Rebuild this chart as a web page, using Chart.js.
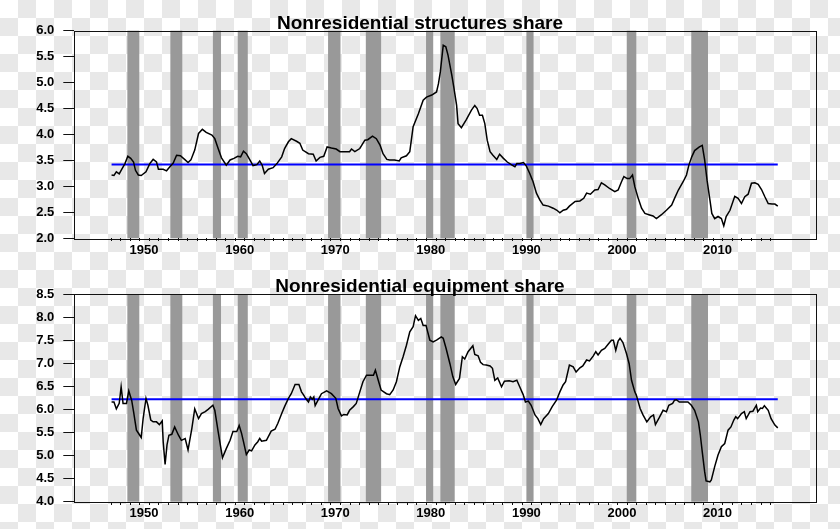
<!DOCTYPE html>
<html>
<head>
<meta charset="utf-8">
<script src="https://cdn.jsdelivr.net/npm/chart.js@4/dist/chart.umd.min.js"></script>
<style>
  html, body {
    margin: 0;
    width: 840px;
    height: 529px;
    overflow: hidden;
    background-color: #fff;
    background-image: repeating-conic-gradient(#e8e8e8 0 25%, #ffffff 0 50%);
    background-size: 36px 36px;
  }
  canvas { position: absolute; left: 0; }
  #c1 { top: 0; }
  #c2 { top: 264px; }
</style>
</head>
<body>
<canvas id="c1" width="840" height="264"></canvas>
<canvas id="c2" width="840" height="265"></canvas>
<script>
const decadeLabels = [1950, 1960, 1970, 1980, 1990, 2000, 2010];
const recessionStart = [1948.75, 1953.25, 1957.7, 1960.3, 1969.75, 1973.7, 1980.0, 1981.5, 1990.5, 2001.0, 2007.75];
const recessionEnd   = [1950.0, 1954.5, 1958.55, 1961.35, 1971.05, 1975.3, 1980.75, 1983.0, 1991.25, 2002.0, 2009.5];

const structMean = 3.42;
const structYears = [
  1947.1, 1947.35, 1947.6, 1947.9, 1948.1, 1948.5, 1948.8, 1949.1, 1949.4, 1949.6, 1949.9,
  1950.2, 1950.7, 1951.1, 1951.45, 1951.8, 1952.0, 1952.5, 1952.85, 1953.2, 1953.55, 1953.9,
  1954.3, 1954.8, 1955.1, 1955.4, 1955.8, 1956.2, 1956.6, 1957.0, 1957.6, 1957.9, 1958.25,
  1958.6, 1959.1, 1959.5, 1959.9, 1960.3, 1960.6, 1960.9, 1961.2, 1961.6, 1961.9, 1962.3,
  1962.6, 1962.85, 1963.1, 1963.5, 1964.0, 1964.4, 1964.9, 1965.2, 1965.6, 1965.9, 1966.45,
  1966.8, 1967.1, 1967.7, 1968.2, 1968.5, 1968.9, 1969.3, 1969.65, 1970.1, 1970.6, 1971.0,
  1971.5, 1972.0, 1972.2, 1972.55, 1973.07, 1973.6, 1973.9, 1974.4, 1974.8, 1975.2, 1975.5,
  1975.9, 1976.2, 1976.7, 1977.2, 1977.4, 1977.95, 1978.3, 1978.65, 1979.2, 1979.7, 1980.05,
  1980.6, 1981.1, 1981.3, 1981.5, 1981.8, 1982.07, 1982.3, 1982.7, 1982.9, 1983.2, 1983.35,
  1983.7, 1984.2, 1984.75, 1985.1, 1985.35, 1985.6, 1985.9, 1986.15, 1986.4, 1986.7, 1987.0,
  1987.4, 1987.7, 1988.1, 1988.5, 1989.0, 1989.3, 1989.5, 1989.8, 1990.2, 1990.5, 1990.85,
  1991.2, 1991.55, 1991.9, 1992.25, 1992.8, 1993.3, 1993.7, 1994.0, 1994.35, 1994.7, 1995.0,
  1995.6, 1996.1, 1996.5, 1996.8, 1997.2, 1997.65, 1998.0, 1998.35, 1998.7, 1999.2, 1999.75,
  2000.1, 2000.45, 2000.7, 2001.05, 2001.3, 2001.6, 2001.85, 2002.2, 2002.55, 2002.9, 2003.4,
  2003.75, 2004.1, 2004.6, 2005.15, 2005.7, 2006.0, 2006.4, 2006.9, 2007.25, 2007.5, 2007.8,
  2008.1, 2008.6, 2008.9, 2009.15, 2009.4, 2009.7, 2009.9, 2010.2, 2010.55, 2010.9, 2011.15,
  2011.4, 2011.8, 2012.3, 2012.65, 2013.0, 2013.35, 2013.7, 2014.05, 2014.4, 2014.75, 2015.1,
  2015.45, 2015.8, 2016.2, 2016.5, 2016.8
];
const structVals = [
  3.22, 3.21, 3.28, 3.24, 3.31, 3.44, 3.58, 3.54, 3.47, 3.31, 3.22,
  3.21, 3.28, 3.44, 3.52, 3.47, 3.33, 3.33, 3.30, 3.38, 3.45, 3.60,
  3.59, 3.51, 3.46, 3.51, 3.70, 4.02, 4.10, 4.04, 3.99, 3.92, 3.73,
  3.55, 3.41, 3.51, 3.54, 3.58, 3.57, 3.68, 3.63, 3.50, 3.40, 3.42,
  3.49, 3.41, 3.25, 3.33, 3.36, 3.44, 3.57, 3.73, 3.86, 3.92, 3.87,
  3.83, 3.70, 3.63, 3.62, 3.49, 3.56, 3.58, 3.76, 3.74, 3.72, 3.67,
  3.67, 3.67, 3.72, 3.67, 3.73, 3.89, 3.90, 3.97, 3.92, 3.79, 3.63,
  3.52, 3.51, 3.51, 3.49, 3.55, 3.59, 3.67, 4.15, 4.40, 4.66, 4.72,
  4.76, 4.82, 4.98, 5.21, 5.72, 5.69, 5.53, 5.14, 4.92, 4.56, 4.21,
  4.13, 4.28, 4.47, 4.56, 4.50, 4.37, 4.37, 4.21, 3.89, 3.67, 3.60,
  3.52, 3.62, 3.54, 3.47, 3.41, 3.38, 3.44, 3.44, 3.46, 3.39, 3.25,
  3.09, 2.87, 2.74, 2.64, 2.62, 2.58, 2.54, 2.49, 2.54, 2.56, 2.62,
  2.71, 2.72, 2.77, 2.87, 2.85, 2.93, 2.94, 3.07, 3.03, 2.96, 2.90,
  2.93, 3.09, 3.19, 3.15, 3.15, 3.22, 2.99, 2.77, 2.58, 2.48, 2.45,
  2.43, 2.38, 2.45, 2.54, 2.64, 2.77, 2.93, 3.09, 3.22, 3.41, 3.57,
  3.69, 3.76, 3.79, 3.51, 3.12, 2.74, 2.48, 2.38, 2.42, 2.38, 2.24,
  2.42, 2.54, 2.81, 2.77, 2.67, 2.80, 2.85, 3.06, 3.07, 3.04, 2.94,
  2.80, 2.67, 2.66, 2.66, 2.62
];

const equipMean = 6.22;
const equipYears = [
  1947.1, 1947.35, 1947.6, 1947.9, 1948.1, 1948.3, 1948.66, 1948.9, 1949.2, 1949.4, 1949.7,
  1950.05, 1950.2, 1950.4, 1950.7, 1950.9, 1951.2, 1951.45, 1951.8, 1952.1, 1952.4, 1952.5,
  1952.7, 1952.9, 1953.1, 1953.4, 1953.7, 1954.1, 1954.4, 1954.8, 1955.1, 1955.5, 1955.8,
  1956.2, 1956.5, 1956.9, 1957.2, 1957.7, 1957.9, 1958.25, 1958.7, 1959.1, 1959.5, 1959.8,
  1960.2, 1960.45, 1960.7, 1960.9, 1961.2, 1961.5, 1961.75, 1962.1, 1962.4, 1962.6, 1962.8,
  1963.3, 1963.8, 1964.2, 1964.5, 1964.9, 1965.2, 1965.6, 1965.9, 1966.3, 1966.7, 1966.97,
  1967.2, 1967.4, 1967.7, 1967.9, 1968.1, 1968.26, 1968.4, 1968.7, 1969.06, 1969.6, 1970.1,
  1970.56, 1970.8, 1971.15, 1971.4, 1971.75, 1972.0, 1972.4, 1972.7, 1973.07, 1973.4, 1973.77,
  1974.1, 1974.5, 1974.7, 1975.0, 1975.3, 1975.86, 1976.2, 1976.56, 1976.9, 1977.25, 1977.6,
  1977.95, 1978.3, 1978.65, 1978.9, 1979.2, 1979.45, 1979.7, 1980.0, 1980.4, 1980.74, 1981.1,
  1981.6, 1981.8, 1982.1, 1982.5, 1982.8, 1983.1, 1983.5, 1983.8, 1984.05, 1984.4, 1984.9,
  1985.1, 1985.45, 1985.7, 1985.97, 1986.3, 1986.7, 1986.95, 1987.2, 1987.5, 1987.9, 1988.2,
  1988.7, 1989.1, 1989.5, 1989.8, 1990.16, 1990.4, 1990.7, 1991.0, 1991.4, 1991.7, 1992.0,
  1992.3, 1992.8, 1993.2, 1993.65, 1994.0, 1994.34, 1994.6, 1995.0, 1995.4, 1995.7, 1996.1,
  1996.4, 1996.8, 1997.1, 1997.5, 1997.76, 1998.0, 1998.35, 1998.7, 1999.05, 1999.4, 1999.6,
  1999.85, 2000.1, 2000.3, 2000.6, 2000.97, 2001.25, 2001.5, 2001.84, 2002.0, 2002.4, 2002.7,
  2003.1, 2003.5, 2003.8, 2004.0, 2004.4, 2004.8, 2005.15, 2005.4, 2005.8, 2006.0, 2006.2,
  2006.5, 2007.06, 2007.4, 2007.76, 2008.1, 2008.5, 2008.7, 2008.9, 2009.15, 2009.3, 2009.7,
  2009.85, 2010.2, 2010.55, 2010.9, 2011.25, 2011.6, 2011.9, 2012.2, 2012.4, 2012.6, 2013.0,
  2013.3, 2013.5, 2013.9, 2014.2, 2014.56, 2014.7, 2015.0, 2015.2, 2015.4, 2015.8, 2016.1,
  2016.5, 2016.8
];
const equipVals = [
  6.16, 6.16, 6.01, 6.13, 6.49, 6.13, 6.13, 6.40, 6.20, 5.95, 5.55,
  5.44, 5.39, 5.80, 6.24, 6.09, 5.77, 5.73, 5.73, 5.67, 5.75, 5.30,
  4.81, 5.23, 5.44, 5.46, 5.62, 5.44, 5.33, 5.37, 5.12, 5.59, 6.01,
  5.80, 5.91, 5.95, 6.00, 6.09, 5.98, 5.52, 4.95, 5.15, 5.33, 5.52,
  5.52, 5.65, 5.48, 5.30, 5.02, 5.12, 5.10, 5.23, 5.30, 5.37, 5.31,
  5.33, 5.53, 5.57, 5.70, 5.91, 6.06, 6.24, 6.34, 6.54, 6.54, 6.38,
  6.31, 6.24, 6.16, 6.27, 6.22, 6.27, 6.08, 6.20, 6.34, 6.40, 6.34,
  6.24, 6.02, 5.86, 5.89, 5.88, 5.98, 6.06, 6.13, 6.38, 6.60, 6.74,
  6.74, 6.74, 6.85, 6.63, 6.42, 6.34, 6.32, 6.42, 6.60, 6.92, 7.14,
  7.39, 7.68, 7.79, 8.03, 7.93, 7.97, 7.82, 7.82, 7.50, 7.46, 7.50,
  7.57, 7.54, 7.32, 6.99, 6.71, 6.54, 6.67, 7.14, 7.09, 7.25, 7.38,
  7.19, 7.16, 7.02, 6.97, 6.96, 6.94, 6.89, 6.63, 6.68, 6.49, 6.61,
  6.62, 6.60, 6.63, 6.49, 6.32, 6.16, 6.18, 6.09, 5.88, 5.80, 5.67,
  5.80, 5.91, 6.06, 6.20, 6.38, 6.53, 6.60, 6.96, 6.92, 6.81, 6.90,
  6.94, 7.07, 7.05, 7.16, 7.25, 7.18, 7.28, 7.32, 7.41, 7.50, 7.50,
  7.28, 7.48, 7.54, 7.45, 7.21, 6.99, 6.63, 6.38, 6.31, 6.02, 5.88,
  5.73, 5.84, 5.88, 5.67, 5.82, 5.98, 5.95, 6.09, 6.13, 6.20, 6.21,
  6.16, 6.16, 6.16, 6.09, 5.98, 5.73, 5.44, 5.08, 4.65, 4.45, 4.43,
  4.47, 4.76, 5.01, 5.19, 5.26, 5.55, 5.62, 5.77, 5.84, 5.80, 5.91,
  5.95, 5.80, 5.95, 5.96, 6.09, 5.95, 6.03, 6.02, 6.08, 5.98, 5.80,
  5.66, 5.60
];

const FONT = '"Liberation Sans", Arial, Helvetica, sans-serif';

// recession shading, frame, yearly minor ticks and the panel title
const panelDecor = {
  id: 'panelDecor',
  beforeDatasetsDraw: (chart) => {
    const { ctx, chartArea: a, scales: { x } } = chart;
    ctx.save();
    ctx.fillStyle = '#999999';
    recessionStart.forEach((s, i) => {
      const x0 = x.getPixelForValue(s);
      const x1 = x.getPixelForValue(recessionEnd[i]);
      ctx.fillRect(x0, a.top, x1 - x0, a.bottom - a.top);
    });
    ctx.restore();
  },
  afterDraw: (chart, args, opts) => {
    const { ctx, chartArea: a, scales: { x } } = chart;
    ctx.save();
    ctx.strokeStyle = '#111';
    ctx.lineWidth = 1;
    ctx.strokeRect(Math.round(a.left) + 0.5, Math.round(a.top) + 0.5,
      Math.round(a.right - a.left), Math.round(a.bottom - a.top));
    ctx.beginPath();
    for (let yr = 1947; yr <= 2016; ++yr) {
      const px = Math.round(x.getPixelForValue(yr)) + 0.5;
      ctx.moveTo(px, Math.round(a.bottom));
      ctx.lineTo(px, Math.round(a.bottom) + 3);
    }
    ctx.stroke();
    ctx.fillStyle = '#000';
    ctx.font = `bold 19px ${FONT}`;
    ctx.textAlign = 'center';
    ctx.textBaseline = 'alphabetic';
    ctx.fillText(opts.text, 420, opts.baseline);
    ctx.restore();
  }
};

const makePanel = (id, title, baseline, years, vals, mean, yMin, yMax, top, bottom, height) => {
  return new Chart(document.getElementById(id).getContext('2d'), {
    type: 'line',
    data: {
      datasets: [{
        data: years.map((t, i) => ({ x: t, y: vals[i] })),
        borderColor: '#000',
        borderWidth: 1.5,
        pointRadius: 0,
        tension: 0,
        order: 0
      }, {
        data: [{ x: years[0], y: mean }, { x: years[years.length - 1], y: mean }],
        borderColor: '#0000ff',
        borderWidth: 2,
        pointRadius: 0,
        order: 1
      }]
    },
    options: {
      responsive: false,
      animation: false,
      events: [],
      layout: { padding: { top: top, right: 24, left: 0, bottom: 0 } },
      plugins: {
        legend: { display: false },
        title: { display: false },
        tooltip: { enabled: false },
        panelDecor: { text: title, baseline: baseline }
      },
      scales: {
        x: {
          type: 'linear',
          min: 1943.2,
          max: 2020.8,
          afterFit: (s) => { s.height = height - bottom; },
          afterBuildTicks: (s) => { s.ticks = decadeLabels.map(d => ({ value: d + 0.5 })); },
          border: { display: false },
          grid: { display: true, drawOnChartArea: false, drawTicks: false },
          ticks: {
            autoSkip: false,
            maxRotation: 0,
            padding: 4,
            color: '#000',
            font: { family: FONT, size: 13, weight: 'bold' },
            callback: (v) => String(Math.floor(v))
          }
        },
        y: {
          min: yMin,
          max: yMax,
          afterFit: (s) => { s.width = 74.3; },
          border: { display: false },
          grid: { display: true, drawOnChartArea: false, drawTicks: true, tickLength: 11, tickColor: '#111' },
          ticks: {
            stepSize: 0.5,
            padding: 9,
            color: '#000',
            font: { family: FONT, size: 13, weight: 'bold' },
            callback: (v) => v.toFixed(1)
          }
        }
      }
    },
    plugins: [panelDecor]
  });
};

makePanel('c1', 'Nonresidential structures share', 29.3, structYears, structVals, structMean, 2, 6, 30.7, 238.3, 264);
makePanel('c2', 'Nonresidential equipment share', 27.7, equipYears, equipVals, equipMean, 4, 8.5, 30, 237.7, 265);
</script>
</body>
</html>
